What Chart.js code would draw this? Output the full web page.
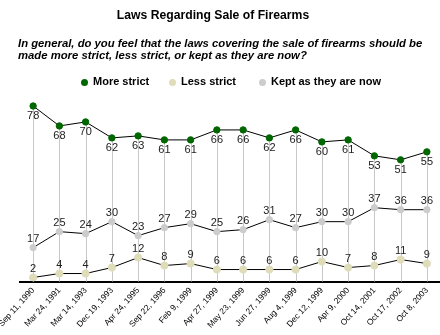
<!DOCTYPE html>
<html>
<head>
<meta charset="utf-8">
<script src="https://cdn.jsdelivr.net/npm/chart.js@4.4.1/dist/chart.umd.min.js"></script>
<style>
  html, body { margin: 0; padding: 0; background: #fff; }
  #wrap { position: relative; width: 440px; height: 335px; font-family: Arial, "Liberation Sans", sans-serif; }
  #title { position: absolute; left: 0; width: 426px; top: 8px; text-align: center; font-weight: bold; font-size: 12.2px; color: #000; }
  #subtitle { position: absolute; left: 18px; top: 37px; font-weight: bold; font-style: italic; font-size: 11.3px; line-height: 12px; color: #000; white-space: nowrap; }
  #legend { position: absolute; left: 0; width: 440px; top: 75px; font-weight: bold; font-size: 11px; color: #000; }
  .item { position: absolute; top: 0; white-space: nowrap; }
  .dot { display: inline-block; width: 7px; height: 7px; border-radius: 50%; margin-right: 5px; vertical-align: -0.5px; }
  canvas { position: absolute; left: 0; top: 0; }
</style>
</head>
<body>
<div id="wrap">
  <canvas id="my-chart" width="440" height="335"></canvas>
  <div id="title">Laws Regarding Sale of Firearms</div>
  <div id="subtitle">In general, do you feel that the laws covering the sale of firearms should be<br>made more strict, less strict, or kept as they are now?</div>
  <div id="legend">
    <span class="item" style="left:81px"><span class="dot" style="background:#006600"></span>More strict</span>
    <span class="item" style="left:169px"><span class="dot" style="background:#dedcb9"></span>Less strict</span>
    <span class="item" style="left:259px"><span class="dot" style="background:#cccccc"></span>Kept as they are now</span>
  </div>
</div>
<script>
const labels = ['Sep 11, 1990', 'Mar 24, 1991', 'Mar 14, 1993', 'Dec 19, 1993', 'Apr 24, 1995',
    'Sep 22, 1996', 'Feb 9, 1999', 'Apr 27, 1999', 'May 23, 1999', 'Jun 27, 1999', 'Aug 4, 1999',
    'Dec 12, 1999', 'Apr 9, 2000', 'Oct 14, 2001', 'Oct 17, 2002', 'Oct 8, 2003'];

const moreStrict = [78, 68, 70, 62, 63, 61, 61, 66, 66, 62, 66, 60, 61, 53, 51, 55];
const lessStrict = [2, 4, 4, 7, 12, 8, 9, 6, 6, 6, 6, 10, 7, 8, 11, 9];
const keptSame = [17, 25, 24, 30, 23, 27, 29, 25, 26, 31, 27, 30, 30, 37, 36, 36];

const ctx = document.getElementById('my-chart');

// gray drop lines from the top series down to the axis
const dropLines = {
    id: 'dropLines',
    beforeDatasetsDraw(chart) {
        const c = chart.ctx;
        const meta = chart.getDatasetMeta(0);
        c.save();
        c.strokeStyle = '#c8c8c8';
        c.lineWidth = 1;
        meta.data.forEach(function (pt) {
            const x = Math.round(pt.x) + 0.5;
            c.beginPath();
            c.moveTo(x, pt.y);
            c.lineTo(x, chart.chartArea.bottom);
            c.stroke();
        });
        c.restore();
    }
};

// value labels: below for the top series, above for the others
const valueLabels = {
    id: 'valueLabels',
    afterDatasetsDraw(chart) {
        const c = chart.ctx;
        c.save();
        c.font = '11px Arial, "Liberation Sans", sans-serif';
        c.fillStyle = '#222';
        c.textAlign = 'center';
        c.textBaseline = 'middle';
        chart.data.datasets.forEach(function (ds, i) {
            const meta = chart.getDatasetMeta(i);
            meta.data.forEach(function (pt, j) {
                const dy = i === 0 ? 10 : -9;
                c.fillText(ds.data[j], pt.x, pt.y + dy);
            });
        });
        c.restore();
    }
};

const config = {
    type: 'line',
    data: {
        labels: labels,
        datasets: [
            {
                label: 'More strict',
                data: moreStrict,
                yAxisID: 'y2',
                borderColor: '#000',
                borderWidth: 1,
                pointBackgroundColor: '#006600',
                pointBorderColor: '#006600',
                pointRadius: 3.2,
                tension: 0
            },
            {
                label: 'Less strict',
                data: lessStrict,
                yAxisID: 'y',
                borderColor: '#000',
                borderWidth: 1,
                pointBackgroundColor: '#dedcb9',
                pointBorderColor: '#dedcb9',
                pointRadius: 3.6,
                tension: 0
            },
            {
                label: 'Kept as they are now',
                data: keptSame,
                yAxisID: 'y',
                borderColor: '#000',
                borderWidth: 1,
                pointBackgroundColor: '#cccccc',
                pointBorderColor: '#cccccc',
                pointRadius: 3.2,
                tension: 0
            }]
    },
    options: {
        responsive: false,
        animation: false,
        layout: {
            autoPadding: false,
            padding: { top: 102, left: 20, right: 0, bottom: 0 }
        },
        plugins: {
            legend: { display: false },
            tooltip: { enabled: false }
        },
        scales: {
            x: {
                offset: true,
                grid: { display: false },
                border: { display: true, color: '#000', width: 2 },
                ticks: {
                    minRotation: 48,
                    maxRotation: 48,
                    autoSkip: false,
                    padding: -4,
                    color: '#000',
                    font: { family: 'Arial, "Liberation Sans", sans-serif', size: 8.4 }
                },
                afterFit(scale) {
                    scale.paddingLeft = 0;
                    scale.paddingRight = 0;
                    scale.height = 53.5;
                }
            },
            y: {
                display: false,
                min: 0,
                max: 90
            },
            y2: {
                display: false,
                min: -10,
                max: 80
            }
        }
    },
    plugins: [dropLines, valueLabels]
};

const chart = new Chart(ctx, config);
</script>
</body>
</html>
